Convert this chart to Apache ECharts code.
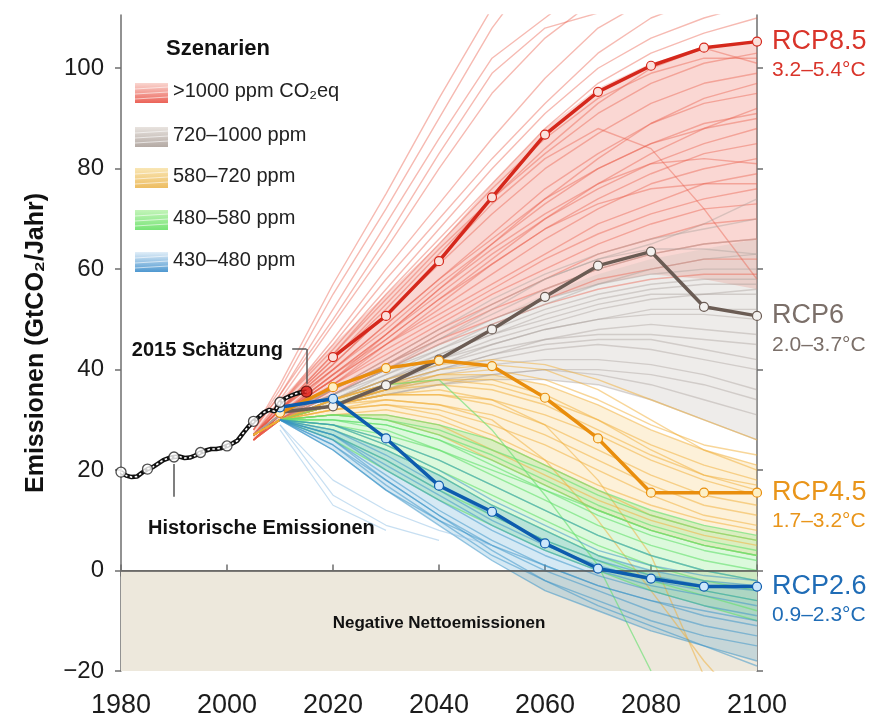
<!DOCTYPE html>
<html>
<head>
<meta charset="utf-8">
<script src="https://cdn.jsdelivr.net/npm/echarts@6/dist/echarts.min.js"></script>
<style>html,body{margin:0;padding:0;background:#fff}#c{width:872px;height:720px}</style>
</head>
<body>
<div id="c"></div>
<script>
// ---------- data ----------
const xTicks = [1980, 2000, 2020, 2040, 2060, 2080, 2100];
const yTicks = [-20, 0, 20, 40, 60, 80, 100];
const scenYears = [2005, 2010, 2020, 2030, 2040, 2050, 2060, 2070, 2080, 2090, 2100];

const histYears = [1980,1981,1982,1983,1984,1985,1986,1987,1988,1989,1990,1991,1992,1993,1994,1995,1996,1997,1998,1999,2000,2001,2002,2003,2004,2005,2006,2007,2008,2009,2010,2011,2012,2013,2014,2015];
const histVals  = [19.6,18.9,18.6,18.7,19.5,20.2,20.6,21.3,22.0,22.4,22.6,22.7,22.4,22.5,22.9,23.5,23.9,24.2,24.2,24.4,24.8,25.3,25.9,27.3,28.6,29.7,30.6,31.5,32.0,31.7,33.5,34.3,34.8,35.2,35.5,35.6];

const rcpYears = [2010, 2020, 2030, 2040, 2050, 2060, 2070, 2080, 2090, 2100];
const rcp85 = [null, 42.5, 50.7, 61.6, 74.3, 86.8, 95.3, 100.5, 104.1, 105.3];
const rcp6  = [31.5, 32.7, 36.9, 42.0, 48.0, 54.5, 60.7, 63.5, 52.5, 50.7];
const rcp45 = [31.4, 36.5, 40.3, 41.8, 40.7, 34.4, 26.3, 15.5, 15.5, 15.5];
const rcp26 = [32.5, 34.2, 26.3, 16.9, 11.7, 5.4, 0.4, -1.6, -3.2, -3.2];

// scenario trajectories (values at scenYears)
const red = [
 [28,37,57,75,94,112,128,140,150,158,165],
 [28,36,55,72,90,108,122,132,140,146,150],
 [28,35,52,69,86,102,110,118,126,134,140],
 [27,34,49,64,80,95,106,114,120,126,131],
 [27,33,46,60,73,86,98,108,114,118,121],
 [27,33,44,56,68,80,91,100,106,110,113],
 [27,32,43,55,66,77,88,97,103,107,110],
 [27,32,42,53,64,74,83,91,97,101,103],
 [27,32,41,51,61,71,80,87,93,97,99],
 [27,32,40,49,58,67,76,83,89,93,95],
 [27,32,40,48,57,65,73,80,85,89,91],
 [27,31,39,47,55,63,70,76,81,85,88],
 [26,31,39,46,54,61,68,74,79,83,85],
 [26,31,38,45,52,59,66,72,77,80,82],
 [26,31,38,45,51,57,63,69,73,77,79],
 [26,31,37,44,50,56,62,67,71,74,76],
 [26,30,37,43,49,55,60,65,69,72,73],
 [26,30,36,42,48,53,58,63,66,69,70],
 [26,30,36,41,47,52,56,60,63,65,66],
 [26,30,35,41,46,50,54,58,60,62,62],
 [26,30,35,40,45,49,53,56,58,59,59],
 [27,32,41,51,62,73,82,88,84,72,58],
 [27,32,42,52,63,74,84,93,100,104,101],
 [27,31,39,47,56,65,74,82,89,94,97],
 [26,31,38,46,54,62,70,77,83,88,92],
 [28,35,50,66,83,99,108,111,114,117,119],
 [27,33,45,58,70,82,93,103,110,114,116],
 [27,32,43,54,65,76,86,94,99,102,102],
 [26,31,40,49,58,66,74,80,85,88,90],
 [26,30,37,45,53,61,68,73,76,77,77],
 [26,31,38,47,56,64,71,77,81,82,81]
];
const grey = [
 [27,31,36,42,48,54,59,63,66,68,70],
 [27,31,36,41,46,51,56,60,63,65,66],
 [27,31,35,40,45,50,54,57,60,62,63],
 [27,31,35,40,44,48,52,55,57,58,58],
 [27,30,35,39,43,47,50,53,55,55,55],
 [27,30,34,38,42,45,48,50,51,51,50],
 [27,30,34,38,41,44,46,47,47,46,45],
 [27,30,34,37,40,42,44,45,44,42,40],
 [27,30,33,36,39,41,42,42,41,39,36],
 [27,30,33,36,38,39,40,39,37,34,31],
 [27,30,33,35,37,38,38,37,34,30,26],
 [27,30,34,39,44,49,53,57,59,60,60],
 [27,30,34,38,43,47,51,54,56,57,57],
 [27,30,33,37,41,45,48,50,52,52,52],
 [27,30,33,36,40,43,46,48,49,48,47],
 [27,31,35,40,46,52,58,62,65,69,74],
 [27,30,34,37,40,43,45,46,46,44,42],
 [27,30,33,35,37,39,40,40,39,37,34],
 [27,31,36,41,47,53,58,62,64,64,63],
 [27,30,34,38,42,46,49,52,54,55,56]
];
const orange = [
 [27,30,34,37,39,39,37,33,28,24,21],
 [27,30,34,37,38,37,34,30,25,21,18],
 [27,30,33,36,37,36,33,28,23,19,16],
 [27,30,33,35,35,34,31,27,22,18,15],
 [27,30,33,35,35,33,29,24,19,15,13],
 [27,30,32,34,33,31,27,22,17,13,11],
 [27,30,32,33,32,29,25,20,15,11,9],
 [27,30,32,33,31,27,22,17,13,10,8],
 [27,30,31,32,30,26,21,16,11,8,6],
 [27,30,31,31,29,24,19,14,10,7,5],
 [27,30,31,30,27,22,17,12,8,5,3],
 [27,30,34,38,41,42,41,38,34,30,26],
 [27,30,33,36,39,40,38,34,29,25,23],
 [27,30,34,37,40,41,40,36,30,24,20],
 [27,30,33,35,36,34,29,18,3,-21,null],
 [27,30,33,34,33,30,22,10,-4,-18,-30],
 [27,30,33,36,38,38,35,30,24,19,17]
];
const green = [
 [null,30,31,30,27,23,18,13,9,6,4],
 [null,30,30,29,26,21,16,11,7,4,2],
 [null,30,30,28,24,19,14,9,5,2,0],
 [null,30,29,26,22,17,12,7,3,0,-2],
 [null,30,29,25,20,15,10,5,1,-2,-4],
 [null,30,28,24,19,13,8,3,-1,-4,-6],
 [null,30,27,22,16,11,6,2,-2,-5,-8],
 [null,30,26,20,14,9,4,0,-4,-7,-10],
 [null,30,31,31,29,26,21,16,12,9,7],
 [null,30,31,30,28,24,20,15,11,8,6],
 [null,30,30,29,26,22,17,12,8,5,3],
 [null,30,33,37,38,28,15,1,-20,null,null],
 [null,30,29,27,24,20,16,12,8,5,3]
];
const blue = [
 [null,30,27,21,15,9,4,0,-3,-5,-7],
 [null,30,27,20,14,8,3,-1,-4,-7,-9],
 [null,30,26,19,12,6,1,-3,-6,-9,-11],
 [null,30,25,18,11,5,0,-4,-8,-11,-13],
 [null,30,25,17,10,3,-2,-6,-10,-13,-15],
 [null,30,24,16,9,2,-4,-8,-12,-15,-18],
 [null,30,28,23,17,11,6,2,-1,-3,-4],
 [null,30,28,24,19,13,8,3,0,-2,-3],
 [null,30,26,18,11,4,-2,-7,-11,-15,-19],
 [null,30,27,22,16,10,5,1,-2,-4,-6],
 [null,30,29,25,20,14,9,4,1,-1,-2],
 [null,30,24,16,10,5,1,-3,-6,-8,-10],
 [null,30,29,26,22,17,12,7,3,0,-2]
];
const paleBlue = [
 [null,29,15,9,6,null,null,null,null,null,null],
 [null,28,13,8,null,null,null,null,null,null,null],
 [null,29,18,12,8,5,null,null,null,null,null]
];
// dense envelopes [low, high]
const redBand    = [[26,30,35,40,45,50,54,57,59,58,56],[28,34,45,55,65,77,88,96,101,104,105]];
const greyBand   = [[27,30,33,35,37,38,38,37,34,30,26],[27,31,35,40,45,50,55,59,62,64,66]];
const orangeBand = [[27,30,31,30,27,22,17,12,8,5,3],[27,30,34,37,39,39,37,33,28,24,21]];
const greenBand  = [[null,30,26,20,14,9,4,0,-4,-7,-10],[null,30,31,31,29,26,21,16,12,9,7]];
const blueBand   = [[null,30,24,16,9,2,-4,-8,-12,-15,-18],[null,30,28,24,19,13,8,3,0,-2,-3]];

const legendNames = ['>1000 ppm CO₂eq', '720–1000 ppm', '580–720 ppm', '480–580 ppm', '430–480 ppm'];
const rcpNames = ['RCP8.5', 'RCP6', 'RCP4.5', 'RCP2.6'];
const rcpTemps = ['3.2–5.4°C', '2.0–3.7°C', '1.7–3.2°C', '0.9–2.3°C'];

// ---------- build ----------
const SANS = "'Liberation Sans',Arial,sans-serif";
const pairs = (xs, vs) => xs.map((x, i) => [x, vs[i]]);
const series = [];

// negative region
series.push({
  type: 'line', data: [], silent: true, z: 1,
  markArea: { silent: true, itemStyle: { color: '#ede8dc' },
    label: { show: true, position: 'inside', formatter: 'Negative Nettoemissionen',
      fontFamily: SANS, fontWeight: 'bold', fontSize: 17, color: '#111', offset: [0, 3] },
    data: [[{ xAxis: 1980, yAxis: 0 }, { xAxis: 2100, yAxis: -20 }]] },
});

function addBand(band, color) {
  const lo = band[0], hi = band[1];
  series.push({ type: 'custom', silent: true, z: 2, data: [[scenYears[0], 0]],
    renderItem: (params, api) => {
      const pts = [];
      scenYears.forEach((y, i) => { if (hi[i] != null) pts.push(api.coord([y, hi[i]])); });
      for (let i = scenYears.length - 1; i >= 0; i--) if (lo[i] != null) pts.push(api.coord([scenYears[i], lo[i]]));
      return { type: 'polygon', shape: { points: pts }, style: { fill: color } };
    } });
}
function addLines(group, color, op, w) {
  group.forEach(vals => series.push({ type: 'line', silent: true, z: 3, symbol: 'none',
    lineStyle: { color: color, width: w, opacity: op }, data: pairs(scenYears, vals) }));
}
addBand(redBand, 'rgba(236,100,85,0.26)');
addLines(red, '#ea5a48', 0.42, 1.4);
addBand(greyBand, 'rgba(200,192,186,0.3)');
addLines(grey, '#aaa09a', 0.42, 1.4);
addBand(orangeBand, 'rgba(244,190,80,0.22)');
addLines(orange, '#f1ae33', 0.5, 1.4);
addBand(greenBand, 'rgba(120,232,120,0.26)');
addLines(green, '#66e070', 0.62, 1.4);
addBand(blueBand, 'rgba(45,145,200,0.2)');
addLines(blue, '#3591c8', 0.5, 1.4);
addLines(paleBlue, '#8fc0e6', 0.5, 1.2);

// zero line
series.push({ type: 'line', data: [], silent: true, z: 4,
  markLine: { silent: true, symbol: 'none', label: { show: false },
    lineStyle: { color: '#555', width: 1.5, type: 'solid' }, data: [{ yAxis: 0 }] } });

// RCP lines
const rcpDefs = [
  [rcp85, '#d5281c', '#fbe1dc', '#d9342a'],
  [rcp6, '#6b5c54', '#f3f1ef', '#7b6f69'],
  [rcp45, '#e98e0d', '#fdf0c6', '#e9951a'],
  [rcp26, '#0d5cae', '#cde7fb', '#1f6cb6']
];
rcpDefs.forEach((d, k) => {
  series.push({ type: 'line', silent: true, z: 6, data: pairs(rcpYears, d[0]),
    symbol: 'circle', symbolSize: 9, showSymbol: true,
    lineStyle: { color: d[1], width: 3.5 },
    itemStyle: { color: d[2], borderColor: d[1], borderWidth: 1.2 },
    endLabel: { show: true, distance: 15, offset: [0, 14], align: 'left',
      formatter: '{a|' + rcpNames[k] + '}\n{b|' + rcpTemps[k] + '}',
      rich: { a: { fontFamily: SANS, fontSize: 27, lineHeight: 30, color: d[3] },
              b: { fontFamily: SANS, fontSize: 21, lineHeight: 28, color: d[3] } } }
  });
});

// historical
const histData = pairs(histYears, histVals);
series.push({ type: 'line', silent: true, z: 7, data: histData, symbol: 'none',
  lineStyle: { color: '#111', width: 4.5 },
  markLine: { silent: true, symbol: 'none', label: { show: false },
    lineStyle: { color: '#555', width: 1.5, type: 'solid' },
    data: [
      [{ coord: [2012.3, 44.1] }, { coord: [2015, 44.1] }],
      [{ coord: [2015, 44.1] }, { coord: [2015, 37.2] }],
      [{ coord: [1990, 21.2] }, { coord: [1990, 14.7] }]
    ] } });
series.push({ type: 'line', silent: true, z: 8, data: histData, symbol: 'none',
  lineStyle: { color: '#fff', width: 1.6, type: [2.5, 2.5] } });
series.push({ type: 'scatter', silent: true, z: 9, symbolSize: 10,
  data: histData.filter(p => p[0] % 5 === 0 && p[0] < 2015),
  itemStyle: { color: '#fff', borderColor: '#222', borderWidth: 1.3 } });
series.push({ type: 'scatter', silent: true, z: 9, symbolSize: 11,
  data: histData.filter(p => p[0] === 2015),
  itemStyle: { color: '#e0201a', borderColor: '#5a0a06', borderWidth: 1.3 } });

// legend graphic
const swatchGrad = [
  ['#f8cfc8', '#e8473a'], ['#e4ded9', '#a79b94'], ['#f8e2a8', '#eab145'],
  ['#b8f2ac', '#5fdf5e'], ['#dcebf7', '#2f86c8']
];
const graphic = [{ type: 'text', left: 166, top: 38,
  style: { text: 'Szenarien', font: 'bold 22px ' + SANS, fill: '#111' } }];
legendNames.forEach((n, i) => {
  const cy = [93, 137, 178, 220, 262][i];
  graphic.push({ type: 'rect', shape: { x: 135, y: cy - 10, width: 33, height: 20 },
    style: { fill: new echarts.graphic.LinearGradient(0, 0, 0, 1, [
      { offset: 0, color: swatchGrad[i][0] }, { offset: 1, color: swatchGrad[i][1] }]), opacity: 0.85 } });
  [0.3, 0.55, 0.8].forEach(f => graphic.push({ type: 'line',
    shape: { x1: 135, y1: cy - 10 + 20 * f, x2: 168, y2: cy - 10 + 20 * f - 2 },
    style: { stroke: 'rgba(255,255,255,0.6)', lineWidth: 1 } }));
  graphic.push({ type: 'text', left: 173, top: cy - 12,
    style: { text: n, font: '20px ' + SANS, fill: '#222' } });
});
graphic.push({ type: 'text', right: 872 - 283, top: 340,
  style: { text: '2015 Schätzung', font: 'bold 20px ' + SANS, fill: '#111', textAlign: 'right' } });
graphic.push({ type: 'text', left: 148, top: 518,
  style: { text: 'Historische Emissionen', font: 'bold 20px ' + SANS, fill: '#111' } });

const axisLine = { show: true, lineStyle: { color: '#6e6e6e', width: 1.5 } };
const tickStyle = { color: '#6e6e6e', width: 1.5 };
const num = v => String(v).replace('-', '−');
const option = {
  animation: false,
  backgroundColor: '#fff',
  grid: { left: 121, right: 115, top: 15, bottom: 49, containLabel: false },
  xAxis: [
    { type: 'value', min: 1980, max: 2100, interval: 20, position: 'bottom',
      axisLine: axisLine, splitLine: { show: false },
      axisTick: { show: true, length: 6, customValues: xTicks, lineStyle: tickStyle },
      axisLabel: { fontFamily: SANS, fontSize: 27, color: '#1c1c1c', margin: 21,
        customValues: xTicks, formatter: num } },
    { type: 'value', min: 1980, max: 2100, interval: 20, position: 'top',
      axisLine: axisLine, splitLine: { show: false },
      axisTick: { show: true, length: 6, customValues: xTicks, lineStyle: tickStyle },
      axisLabel: { show: false } }
  ],
  yAxis: [
    { type: 'value', min: -20, max: 110.6, interval: 20, position: 'left',
      axisLine: axisLine, splitLine: { show: false },
      axisTick: { show: true, length: 6, customValues: yTicks, lineStyle: tickStyle },
      axisLabel: { fontFamily: SANS, fontSize: 24, color: '#1c1c1c', margin: 17,
        customValues: yTicks, formatter: num },
      name: 'Emissionen (GtCO₂/Jahr)', nameLocation: 'middle', nameRotate: 90, nameGap: 72,
      nameTextStyle: { fontFamily: SANS, fontWeight: 'bold', fontSize: 25, color: '#111' } },
    { type: 'value', min: -20, max: 110.6, interval: 20, position: 'right',
      axisLine: axisLine, splitLine: { show: false },
      axisTick: { show: true, length: 6, customValues: yTicks, lineStyle: tickStyle },
      axisLabel: { show: false } }
  ],
  graphic: graphic,
  series: series
};
echarts.init(document.getElementById('c')).setOption(option);
</script>
</body>
</html>
